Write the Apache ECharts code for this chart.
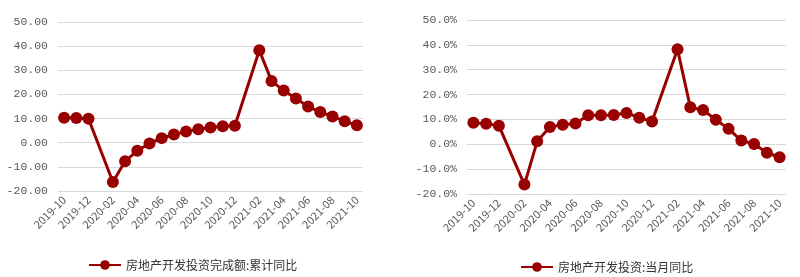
<!DOCTYPE html>
<html><head><meta charset="utf-8">
<script src="https://cdn.jsdelivr.net/npm/echarts@6/dist/echarts.min.js"></script>
<style>html,body{margin:0;padding:0;background:#fff}#c{width:800px;height:277px}</style>
</head><body><div id="c"></div>
<script>
const categories = ['2019-10','2019-11','2019-12','2020-01','2020-02','2020-03','2020-04','2020-05','2020-06','2020-07','2020-08','2020-09','2020-10','2020-11','2020-12','2021-01','2021-02','2021-03','2021-04','2021-05','2021-06','2021-07','2021-08','2021-09','2021-10'];
const cumulativeYoY = [10.3,10.2,9.9,null,-16.3,-7.7,-3.3,-0.3,1.9,3.4,4.6,5.6,6.3,6.8,7.0,null,38.3,25.6,21.6,18.3,15.0,12.7,10.9,8.9,7.2];
const monthlyYoY = [8.7,8.3,7.5,null,-16.2,1.2,7.0,7.9,8.4,11.7,11.7,11.8,12.6,10.7,9.2,null,38.2,14.9,13.8,9.9,6.2,1.5,0.1,-3.4,-5.2];
const seriesNames = ['房地产开发投资完成额:累计同比','房地产开发投资:当月同比'];

const color = '#990000';
const font = '"Noto Sans CJK SC", "DejaVu Sans", sans-serif';
const mono = '"Liberation Mono", "DejaVu Sans Mono", monospace';
function xAxis(gi){
  return {type:'category', gridIndex:gi, data:categories, boundaryGap:true,
    axisLine:{show:false}, axisTick:{show:false},
    axisLabel:{interval:1, rotate:45, color:'#595959', fontSize:11, fontFamily:font, margin:7}};
}
function yAxis(gi, fmt){
  return {type:'value', gridIndex:gi, min:-20, max:50, interval:10,
    axisLine:{show:false}, axisTick:{show:false},
    splitLine:{lineStyle:{color:'#d9d9d9', width:1}},
    axisLabel:{color:'#595959', fontSize:11.5, fontFamily:mono, formatter:fmt, margin:10}};
}
function series(name, data, i){
  return {name, type:'line', xAxisIndex:i, yAxisIndex:i, data, connectNulls:true,
    showSymbol:true, showAllSymbol:true,
    symbol:'circle', symbolSize:12, lineStyle:{color, width:3}, itemStyle:{color}};
}
const chart = echarts.init(document.getElementById('c'), null, {renderer:'canvas'});
chart.setOption({
  animation:false,
  grid:[{left:58, right:437, top:22, bottom:86},{left:467, right:14, top:20, bottom:83}],
  xAxis:[xAxis(0), xAxis(1)],
  yAxis:[yAxis(0, v=>v.toFixed(2)), yAxis(1, v=>v.toFixed(1)+'%')],
  legend:[
    {data:[seriesNames[0]], left:83, top:254, itemWidth:32, itemHeight:12, itemGap:4, textStyle:{color:'#333', fontSize:12, fontFamily:font}},
    {data:[seriesNames[1]], left:515, top:256, itemWidth:32, itemHeight:12, itemGap:4, textStyle:{color:'#333', fontSize:12, fontFamily:font}}
  ],
  series:[series(seriesNames[0], cumulativeYoY, 0), series(seriesNames[1], monthlyYoY, 1)]
});
</script></body></html>
